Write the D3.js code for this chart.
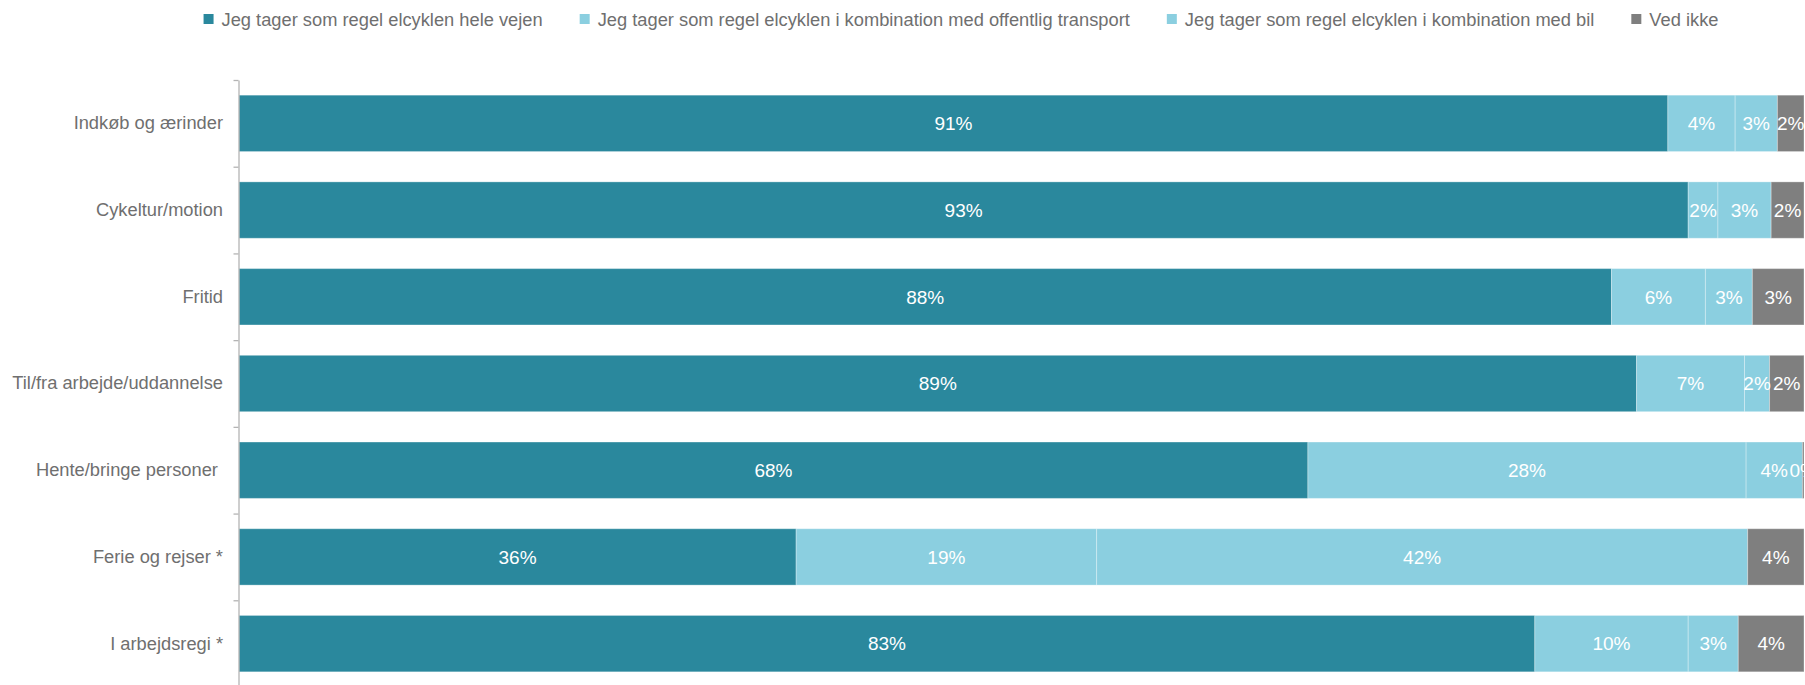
<!DOCTYPE html>
<html>
<head>
<meta charset="utf-8">
<script src="https://cdn.jsdelivr.net/npm/d3@7"></script>
<style>
  html, body { margin: 0; padding: 0; background: #ffffff; }
  svg { display: block; font-family: "Liberation Sans", Arial, sans-serif; }
</style>
</head>
<body>
<svg id="chart" width="1805" height="685"></svg>
<script>
const categories = ["Indkøb og ærinder", "Cykeltur/motion", "Fritid", "Til/fra arbejde/uddannelse", "Hente/bringe personer ", "Ferie og rejser *", "I arbejdsregi *"];
const seriesNames = ["Jeg tager som regel elcyklen hele vejen", "Jeg tager som regel elcyklen i kombination med offentlig transport", "Jeg tager som regel elcyklen i kombination med bil", "Ved ikke"];
const heleVejen = [91.3, 92.6, 87.7, 89.3, 68.3, 35.6, 82.8];
const offentlig = [4.3, 1.9, 6.0, 6.9, 28.0, 19.2, 9.8];
const bil = [2.7, 3.4, 3.0, 1.6, 3.6, 41.6, 3.2];
const vedIkke = [1.7, 2.1, 3.3, 2.2, 0.1, 3.6, 4.2];
const colors = ["#2a889d", "#8bcfe0", "#8bcfe0", "#7f7f7f"];

(function () {
const svg = d3.select("#chart");
const mLeft = 239, mRight = 1804, mTop = 80, mBottom = 687;

const x = d3.scaleLinear().domain([0, 100]).range([mLeft, mRight]);
const y = d3.scaleBand().domain(categories).range([mTop, mBottom]).paddingInner(0.35).paddingOuter(0.175);

const rows = categories.map((c, i) => ({ cat: c, v0: heleVejen[i], v1: offentlig[i], v2: bil[i], v3: vedIkke[i] }));
const stacked = d3.stack().keys(["v0", "v1", "v2", "v3"])(rows);

const g = svg.append("g");
stacked.forEach((layer, k) => {
  g.append("g").selectAll("rect").data(layer).join("rect")
    .attr("x", d => x(d[0]))
    .attr("y", d => y(d.data.cat))
    .attr("width", d => x(d[1]) - x(d[0]))
    .attr("height", y.bandwidth())
    .attr("fill", colors[k])
    .attr("stroke", "rgba(255,255,255,0.3)")
    .attr("stroke-width", 1);
});
stacked.forEach((layer, k) => {
  g.append("g").selectAll("text").data(layer).join("text")
    .attr("x", d => (x(d[0]) + x(d[1])) / 2)
    .attr("y", d => y(d.data.cat) + y.bandwidth() / 2)
    .attr("dy", "0.36em")
    .attr("text-anchor", "middle")
    .attr("fill", "#ffffff")
    .attr("font-size", 19)
    .text(d => Math.round(d[1] - d[0]) + "%");
});

// axis with ticks at category boundaries
const yb = d3.scaleLinear().domain([0, categories.length]).range([mTop, mBottom]);
const tickAxis = svg.append("g").attr("transform", `translate(${mLeft - 0.5},0)`)
  .call(d3.axisLeft(yb).tickValues(d3.range(0, categories.length + 1)).tickSize(5).tickSizeOuter(0).tickFormat(""));
tickAxis.selectAll("path,line").attr("stroke", "#b4b4b4").attr("stroke-width", 1.3);

const labelAxis = svg.append("g").attr("transform", `translate(${mLeft},0)`)
  .call(d3.axisLeft(y).tickSize(0).tickPadding(16));
labelAxis.select(".domain").remove();
labelAxis.selectAll("text")
  .attr("font-size", 18.3)
  .attr("font-family", "Liberation Sans, Arial, sans-serif")
  .attr("fill", "#6f6f6f")
  .style("white-space", "pre");

// legend
const legend = svg.append("g");
const items = legend.selectAll("g").data(seriesNames).join("g");
items.append("rect").attr("width", 10).attr("height", 10).attr("y", 14).attr("fill", (d, i) => colors[i]);
items.append("text").attr("x", 18).attr("y", 26).attr("font-size", 18.3).attr("fill", "#6f6f6f").text(d => d);
const widths = [];
items.each(function () { widths.push(this.querySelector("text").getComputedTextLength()); });
const gap = 37;
const total = d3.sum(widths.map(w => 18 + w)) + gap * (widths.length - 1);
let cx = 961 - total / 2;
items.each(function (d, i) {
  d3.select(this).attr("transform", `translate(${cx},0)`);
  cx += 18 + widths[i] + gap;
});
})();
</script>
</body>
</html>
